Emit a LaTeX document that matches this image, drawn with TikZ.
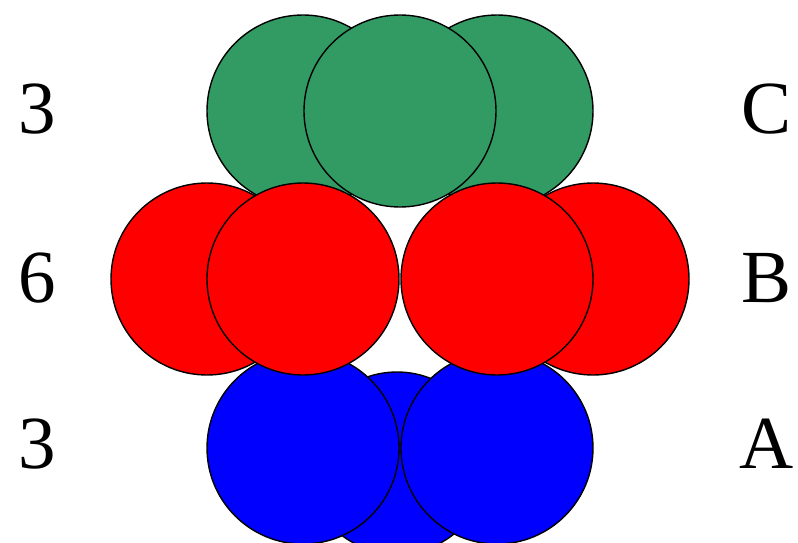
\documentclass[tikz,border=0pt]{standalone}
\usepackage{fontspec}
\setmainfont{Liberation Serif}

\definecolor{layerc}{RGB}{50,155,100}
\definecolor{layerb}{RGB}{255,0,0}
\definecolor{layera}{RGB}{0,0,255}

\begin{document}
\begin{tikzpicture}[x=1pt,y=-1pt,
        ball/.style={draw=black,line width=1.4pt},
        lbl/.style={font=\fontsize{75}{75}\selectfont,anchor=base,inner sep=0pt}]
        \useasboundingbox (0,0) rectangle (798,543);
        % layer C
        \draw[ball,fill=layerc] (303,111) circle [radius=96pt];
        \draw[ball,fill=layerc] (497,111) circle [radius=96pt];
        \draw[ball,fill=layerc] (400,111) circle [radius=96pt];
        % layer A
        \draw[ball,fill=layera] (397,463) circle [radius=91pt];
        \draw[ball,fill=layera] (303,448) circle [radius=96pt];
        \draw[ball,fill=layera] (497,448) circle [radius=96pt];
        % layer B
        \draw[ball,fill=layerb] (207,279) circle [radius=96pt];
        \draw[ball,fill=layerb] (593,279) circle [radius=96pt];
        \draw[ball,fill=layerb] (303,279) circle [radius=96pt];
        \draw[ball,fill=layerb] (497,279) circle [radius=96pt];
        % counts and names
        \node (nc) [lbl] at (37,133) {3};
        \node (nb) [lbl] at (37,302) {6};
        \node (na) [lbl] at (37,468) {3};
        \node (lc) [lbl] at (767,133) {C};
        \node (lb) [lbl] at (767,302) {B};
        \node (la) [lbl] at (767,468) {A};
    \end{tikzpicture}
\end{document}
